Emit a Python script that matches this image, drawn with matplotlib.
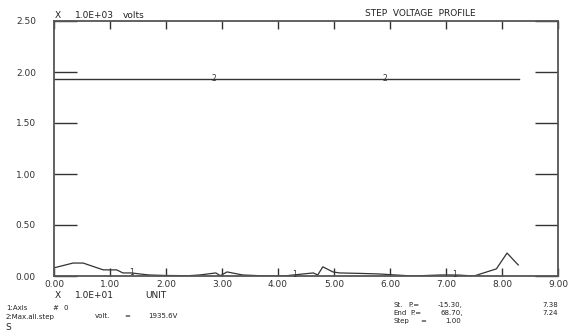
import matplotlib
matplotlib.use("Agg")
import matplotlib.pyplot as plt

# Data (x in units of 1.0E+01, y in units of 1.0E+03 volts)
s1_x = [0.00, 0.34, 0.52, 0.88, 1.12, 1.23, 1.39, 1.53, 1.70, 2.00, 2.40, 2.60, 2.89, 2.97,
        3.09, 3.37, 3.80, 4.10, 4.45, 4.63, 4.71, 4.80, 4.98, 5.10, 5.50, 5.80, 6.40, 6.90,
        7.20, 7.50, 7.90, 8.09, 8.29]
s1_y = [0.080, 0.127, 0.127, 0.060, 0.060, 0.030, 0.030, 0.020, 0.010, 0.005, 0.003, 0.010,
        0.030, 0.003, 0.040, 0.010, 0.000, 0.000, 0.020, 0.030, 0.010, 0.090, 0.040, 0.030,
        0.025, 0.020, 0.000, 0.010, 0.010, 0.000, 0.070, 0.225, 0.108]
s1_marks = [1.39, 4.30, 7.16]
s2_x = [0.00, 8.30]
s2_y = [1.9356, 1.9356]
s2_marks = [2.86, 5.90]
xticks = [0, 1, 2, 3, 4, 5, 6, 7, 8, 9]
yticks = [0.0, 0.5, 1.0, 1.5, 2.0, 2.5]

fig = plt.figure(figsize=(5.76, 3.34), dpi=100)
ax = fig.add_axes([54/576, 1 - 276/334, 504/576, 255/334])
ax.set_xlim(0, 9)
ax.set_ylim(0, 2.5)

lc = "#333333"
ax.plot(s1_x, s1_y, color=lc, lw=0.9)
ax.plot(s2_x, s2_y, color=lc, lw=1.0)
fs = 6.5
for xm in s1_marks:
    ym = 0.0
    for i in range(len(s1_x) - 1):
        if s1_x[i] <= xm <= s1_x[i + 1]:
            t = (xm - s1_x[i]) / (s1_x[i + 1] - s1_x[i])
            ym = s1_y[i] + t * (s1_y[i + 1] - s1_y[i])
    ax.text(xm, ym, "1", fontsize=5.5, ha="center", va="center", color=lc)
for xm in s2_marks:
    ax.text(xm, s2_y[0], "2", fontsize=5.5, ha="center", va="center", color=lc)

for sp in ax.spines.values():
    sp.set_color("#555555")
    sp.set_linewidth(1.3)

ax.set_xticks(xticks)
ax.set_yticks(yticks)
ax.set_xticklabels([f"{v:.2f}" for v in xticks])
ax.set_yticklabels([f"{v:.2f}" for v in yticks])
ax.tick_params(axis="x", direction="in", length=6, width=1, colors="#333333",
               top=True, labelsize=fs, pad=3)
ax.tick_params(axis="y", direction="in", length=16.5, width=1, colors="#333333",
               right=True, labelsize=fs, pad=13)

def ftxt(x, y, s, size=fs, **kw):
    fig.text(x / 576, 1 - y / 334, s, fontsize=size, color="#222222", va="center", **kw)

sm = 5.0
ftxt(55, 15, "X")
ftxt(75, 15, "1.0E+03")
ftxt(123, 15, "volts")
ftxt(365, 14, "STEP  VOLTAGE  PROFILE")
ftxt(55, 295, "X")
ftxt(75, 295, "1.0E+01")
ftxt(145, 295, "UNIT")

ftxt(6, 308, "1:Axis", size=sm)
ftxt(52, 308, "#", size=sm)
ftxt(63, 308, "0", size=sm)
ftxt(6, 316.5, "2:Max.all.step", size=sm)
ftxt(95, 316.5, "volt.", size=sm)
ftxt(124, 316.5, "=", size=sm)
ftxt(148, 316.5, "1935.6V", size=sm)
ftxt(5, 327, "S")

ftxt(393, 305, "St.", size=sm)
ftxt(408, 305, "P.=", size=sm)
ftxt(393, 313, "End", size=sm)
ftxt(410, 313, "P.=", size=sm)
ftxt(393, 321, "Step", size=sm)
ftxt(420, 321, "=", size=sm)
ftxt(463, 305, "-15.30,", size=sm, ha="right")
ftxt(463, 313, "68.70,", size=sm, ha="right")
ftxt(461, 321, "1.00", size=sm, ha="right")
ftxt(558, 305, "7.38", size=sm, ha="right")
ftxt(558, 313, "7.24", size=sm, ha="right")

fig.savefig("out.png", dpi=100)
